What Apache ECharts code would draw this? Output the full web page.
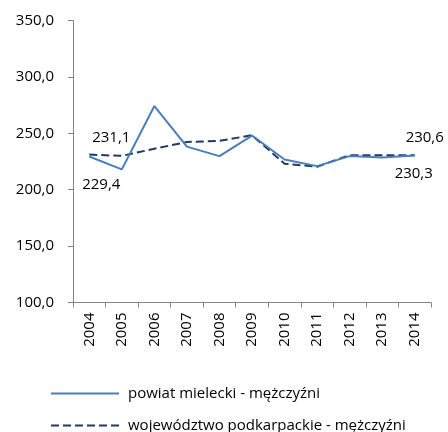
<!DOCTYPE html>
<html>
<head>
<meta charset="utf-8">
<script src="https://cdn.jsdelivr.net/npm/echarts@6/dist/echarts.min.js"></script>
<style>
  html, body { margin: 0; padding: 0; background: #fff; }
  #chart { width: 448px; height: 432px; }
</style>
</head>
<body>
<div id="chart"></div>
<script>
// Years on the category axis
const years = ['2004', '2005', '2006', '2007', '2008', '2009', '2010', '2011', '2012', '2013', '2014'];
// powiat mielecki - mężczyźni
const powiat = [229.4, 218.0, 274.2, 238.2, 229.8, 248.0, 226.8, 220.9, 229.8, 228.5, 230.3];
// województwo podkarpackie - mężczyźni
const wojewodztwo = [231.1, 230.0, 236.3, 242.3, 243.3, 248.3, 223.0, 220.4, 230.6, 230.5, 230.6];
// Value axis range
const yMin = 100, yMax = 350, yStep = 50;

const seriesNames = ['powiat mielecki - mężczyźni', 'województwo podkarpackie - mężczyźni'];
const FONT = 'Open Sans';
const FS = 15;
const fmt = v => v.toFixed(1).replace('.', ',');

// label only the first and last point of a series; those two points get an
// invisible symbol so the label has something to attach to
function withEndLabels(values, firstOffset, lastOffset) {
  return values.map((v, i) => {
    if (i === 0 || i === values.length - 1) {
      return {
        value: v,
        symbol: 'circle',
        symbolSize: 0,
        label: {
          show: true,
          position: 'inside',
          offset: i === 0 ? firstOffset : lastOffset,
          formatter: p => fmt(p.value),
          color: '#000',
          fontFamily: FONT,
          fontSize: FS
        }
      };
    }
    return v;
  });
}

// legend rows: plain line sample (no marker) followed by the series name
const legendBase = {
  left: 50,
  padding: 0,
  itemWidth: 68,
  itemHeight: 14,
  itemStyle: { opacity: 0 },
  textStyle: { fontFamily: FONT, fontSize: FS, color: '#000', padding: [0, 0, 0, 4] }
};

const chart = echarts.init(document.getElementById('chart'));
chart.setOption({
  animation: false,
  grid: { left: 73, right: 17, top: 20.5, bottom: 129.5, containLabel: false },
  legend: [
    Object.assign({}, legendBase, { data: [seriesNames[0]], top: 386 }),
    Object.assign({}, legendBase, { data: [seriesNames[1]], top: 418 })
  ],
  xAxis: {
    type: 'category',
    data: years,
    boundaryGap: true,
    axisLine: { lineStyle: { color: '#868686', width: 1 } },
    axisTick: { show: true, alignWithLabel: false, length: 5, lineStyle: { color: '#868686' } },
    axisLabel: { rotate: 90, fontFamily: FONT, fontSize: FS, color: '#000', margin: 10 },
    splitLine: { show: false }
  },
  yAxis: {
    type: 'value',
    min: yMin, max: yMax, interval: yStep,
    axisLine: { show: true, lineStyle: { color: '#868686', width: 1 } },
    axisTick: { show: true, length: 5, lineStyle: { color: '#868686' } },
    axisLabel: { fontFamily: FONT, fontSize: FS, color: '#000', margin: 19, formatter: v => fmt(v) },
    splitLine: { show: false }
  },
  series: [
    {
      name: seriesNames[0],
      type: 'line',
      data: withEndLabels(powiat, [12, 28], [-1, 18]),
      symbol: 'none',
      itemStyle: { color: '#4a7ebb' },
      lineStyle: { color: '#4a7ebb', width: 2 },
      z: 3
    },
    {
      name: seriesNames[1],
      type: 'line',
      data: withEndLabels(wojewodztwo, [22, -17], [10, -17]),
      symbol: 'none',
      itemStyle: { color: '#1f3b64' },
      lineStyle: { color: '#1f3b64', width: 2, type: [8, 4] },
      z: 2
    }
  ]
});
</script>
</body>
</html>
